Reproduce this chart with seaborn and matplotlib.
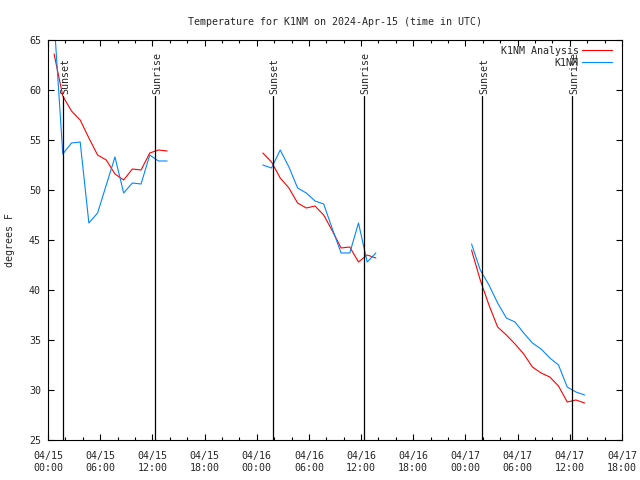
#!/usr/bin/env python3

import numpy as np
import pandas as pd
import matplotlib
matplotlib.use("Agg")
import matplotlib.pyplot as plt
import matplotlib.dates as mdates
import seaborn as sns

sns.set_style("ticks")
plt.rcParams["font.family"] = ["DejaVu Sans Mono"]

# hourly samples, each day starts at HH:42
DAYS = ["2024-04-15", "2024-04-16", "2024-04-17"]
N_HOURS = 14

ANALYSIS = [
    [63.6, 59.4, 57.9, 57.0, 55.2, 53.5, 53.0, 51.6, 51.0, 52.1, 52.0, 53.7, 54.0, 53.9],
    [53.7, 52.8, 51.2, 50.2, 48.7, 48.2, 48.4, 47.5, 45.9, 44.2, 44.3, 42.8, 43.5, 43.2],
    [44.0, 41.0, 38.5, 36.3, 35.5, 34.6, 33.6, 32.3, 31.7, 31.3, 30.4, 28.8, 29.0, 28.7],
]
OBS = [
    [67.0, 53.6, 54.7, 54.8, 46.7, 47.7, 50.5, 53.3, 49.7, 50.7, 50.6, 53.5, 52.9, 52.9],
    [52.5, 52.2, 54.0, 52.3, 50.2, 49.7, 48.9, 48.6, 46.1, 43.7, 43.7, 46.7, 42.8, 43.7],
    [44.6, 42.0, 40.5, 38.7, 37.2, 36.8, 35.7, 34.7, 34.1, 33.2, 32.5, 30.3, 29.8, 29.5],
]

SUNSETS = ["2024-04-15 01:43", "2024-04-16 01:50", "2024-04-17 01:56"]
SUNRISES = ["2024-04-15 12:17", "2024-04-16 12:17", "2024-04-17 12:16"]

RED = "#ff0000"
BLUE = "#0088ff"


def build_frame():
    rows = []
    for seg, day in enumerate(DAYS):
        times = pd.date_range(f"{day} 00:42", periods=N_HOURS, freq="h")
        for name, vals in (("K1NM Analysis", ANALYSIS[seg]), ("K1NM", OBS[seg])):
            for t, v in zip(times, vals):
                rows.append({"time": t, "temp": v, "series": name, "seg": seg})
    return pd.DataFrame(rows)


def main():
    df = build_frame()
    fs = 7.2

    fig = plt.figure(figsize=(6.4, 4.8), dpi=100)
    ax = fig.add_axes([48 / 640, 1 - 440 / 480, 574 / 640, 400 / 480])

    sns.lineplot(
        data=df, x="time", y="temp", hue="series", units="seg",
        estimator=None, hue_order=["K1NM Analysis", "K1NM"],
        palette={"K1NM Analysis": RED, "K1NM": BLUE},
        linewidth=0.8, ax=ax, legend=False,
    )

    for times, label in ((SUNSETS, "Sunset"), (SUNRISES, "Sunrise")):
        for t in pd.to_datetime(times):
            ax.axvline(t, ymin=0, ymax=0.86, color="black", lw=0.9)
            ax.annotate(
                label, xy=(t, 0.865), xycoords=("data", "axes fraction"),
                xytext=(1.5, 0), textcoords="offset points",
                rotation=90, ha="center", va="bottom", fontsize=fs,
            )

    ax.set_xlim(pd.Timestamp("2024-04-15 00:00"), pd.Timestamp("2024-04-17 18:00"))
    ax.set_ylim(25, 65)
    ax.set_yticks(np.arange(25, 66, 5))
    ax.xaxis.set_major_locator(mdates.HourLocator(byhour=[0, 6, 12, 18]))
    ax.xaxis.set_minor_locator(mdates.HourLocator(byhour=range(0, 24, 2)))
    ax.xaxis.set_major_formatter(mdates.DateFormatter("%m/%d\n%H:%M"))

    ax.tick_params(which="both", direction="in", top=True, right=True,
                   labelsize=fs, color="black", width=0.8)
    ax.tick_params(which="major", length=4)
    ax.tick_params(which="minor", length=2)
    ax.tick_params(axis="x", pad=8)
    ax.tick_params(axis="y", pad=5)
    for s in ax.spines.values():
        s.set_visible(True)
        s.set_color("black")
        s.set_linewidth(0.8)

    ax.set_xlabel("")
    ax.set_ylabel("degrees F", fontsize=fs)
    ax.yaxis.set_label_coords(-0.058, 0.5)
    ax.set_title("Temperature for K1NM on 2024-Apr-15 (time in UTC)",
                 fontsize=fs, pad=11)

    handles = [plt.Line2D([], [], color=RED, lw=0.8),
               plt.Line2D([], [], color=BLUE, lw=0.8)]
    ax.legend(handles, ["K1NM Analysis", "K1NM"], loc="upper right",
              bbox_to_anchor=(0.982, 0.985), frameon=False, markerfirst=False,
              fontsize=fs, handlelength=3.0, handletextpad=0.3,
              labelspacing=0.2, borderpad=0, borderaxespad=0)

    fig.savefig("out.png", dpi=100)
    plt.close(fig)


if __name__ == "__main__":
    main()
